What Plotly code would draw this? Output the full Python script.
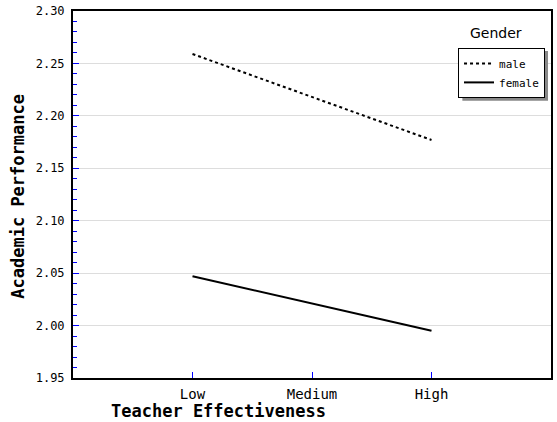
import plotly.graph_objects as go

categories = ["Low", "Medium", "High"]
male = [2.259, 2.218, 2.177]
female = [2.047, 2.021, 1.995]
y_ticks = [1.95, 2.00, 2.05, 2.10, 2.15, 2.20, 2.25, 2.30]

fig = go.Figure()
fig.add_trace(go.Scatter(x=categories, y=male, mode="lines", name="male",
                         line=dict(color="black", width=2, dash="dot")))
fig.add_trace(go.Scatter(x=categories, y=female, mode="lines", name="female",
                         line=dict(color="black", width=2)))

mono = "DejaVu Sans Mono"
L, T, R, B = 73, 10, 553, 378
W, H = R - L, B - T


def px(x):
    return (x - L) / W


def py(y):
    return (B - y) / H


fig.update_layout(
    width=557, height=422,
    margin=dict(l=L, r=557 - R, t=T, b=422 - B),
    paper_bgcolor="white", plot_bgcolor="white",
    showlegend=True,
    legend=dict(x=px(547), y=py(47), xref="paper", yref="paper",
                xanchor="right", yanchor="top",
                bgcolor="white", bordercolor="black", borderwidth=1,
                font=dict(family=mono, size=11, color="black"),
                itemwidth=30, tracegroupgap=0),
    xaxis=dict(type="category", range=[-1, 3], categoryarray=categories,
               showgrid=False, ticks="inside", ticklen=6, tickcolor="blue",
               tickwidth=1, showline=True, linecolor="black", linewidth=2,
               mirror=True, tickfont=dict(family=mono, size=14, color="black"),
               ticklabelstandoff=2, zeroline=False),
    yaxis=dict(range=[1.95, 2.30], tickvals=y_ticks,
               ticktext=[f"{v:.2f}" for v in y_ticks],
               showgrid=True, gridcolor="#dddddd", gridwidth=1,
               ticks="inside", ticklen=6, tickcolor="blue", tickwidth=1,
               minor=dict(dtick=0.01, tick0=1.95, ticks="inside", ticklen=4,
                          tickcolor="blue", tickwidth=1, showgrid=False),
               showline=True, linecolor="black", linewidth=2, mirror=True,
               tickfont=dict(family=mono, size=12, color="black"),
               ticklabelstandoff=4, zeroline=False),
    font=dict(family=mono, color="black"),
)

fig.add_shape(type="rect", xref="paper", yref="paper",
              x0=px(464), x1=px(550), y0=py(100), y1=py(50),
              fillcolor="#888888", line=dict(width=0), layer="above")

fig.add_annotation(text="Gender", xref="paper", yref="paper",
                   x=px(498), y=py(32), showarrow=False,
                   font=dict(family="DejaVu Sans", size=14, color="black"),
                   xanchor="center", yanchor="middle")
fig.add_annotation(text="<b>Teacher Effectiveness</b>", xref="paper", yref="paper",
                   x=px(219), y=py(411), showarrow=False,
                   font=dict(family=mono, size=17, color="black"),
                   xanchor="center", yanchor="middle")
fig.add_annotation(text="<b>Academic Performance</b>", xref="paper", yref="paper",
                   x=px(18), y=py(196), showarrow=False, textangle=-90,
                   font=dict(family=mono, size=17, color="black"),
                   xanchor="center", yanchor="middle")

fig.write_html("out.html", config={"displayModeBar": False},
               post_script="document.body.style.margin='0';document.body.style.overflow='hidden';")
